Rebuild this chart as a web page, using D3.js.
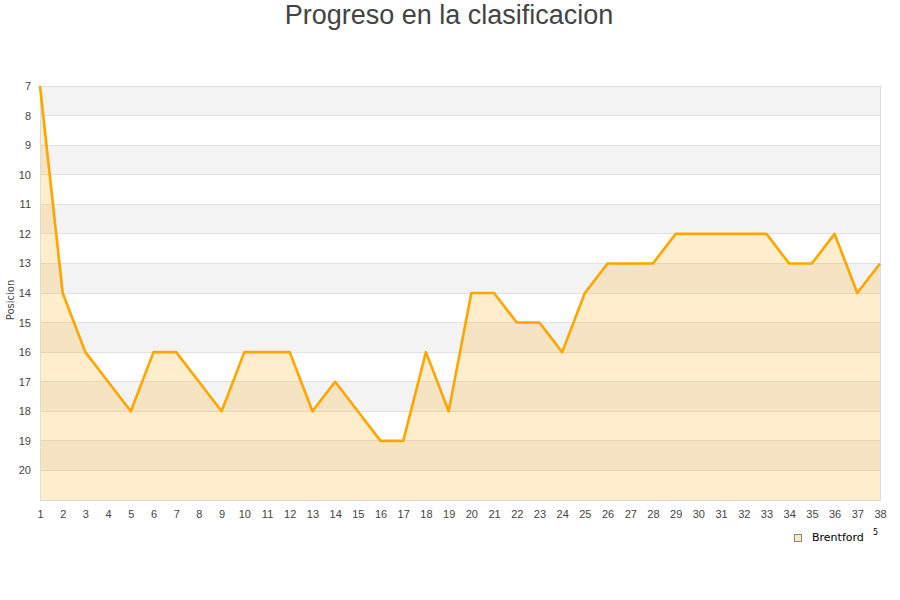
<!DOCTYPE html>
<html><head><meta charset="utf-8">
<script src="https://cdn.jsdelivr.net/npm/d3@7"></script>
<style>body{margin:0;background:#fff}svg{display:block;font-family:"DejaVu Sans",sans-serif}</style>
</head><body><svg id="c" width="900" height="600"></svg>
<script>
const title = "Progreso en la clasificacion";
const yLabel = "Posicion";
const seriesName = "Brentford";
const jornadas = d3.range(1, 39);
const posiciones = [7,14,16,17,18,16,16,17,18,16,16,16,18,17,18,19,19,16,18,14,14,15,15,16,14,13,13,13,12,12,12,12,12,13,13,12,14,13];
const yTicks = [7,8,9,10,11,12,13,14,15,16,17,18,19,20];

const svg = d3.select("#c");
const L = 40, R = 880, T = 86, B = 500;
const x = d3.scaleLinear().domain([1, 38]).range([L, R]);
const y = d3.scaleLinear().domain([7, 21]).range([T, B]);
const data = jornadas.map((j, i) => ({j, p: posiciones[i]}));

const bands = d3.range(7, 21);
svg.append("g").selectAll("rect").data(bands).join("rect")
  .attr("x", L).attr("width", R - L)
  .attr("y", d => y(d)).attr("height", d => y(d + 1) - y(d))
  .attr("fill", d => (d % 2 === 1) ? "#f3f3f3" : "#ffffff");
svg.append("g").selectAll("line").data(d3.range(8, 21)).join("line")
  .attr("x1", L).attr("x2", R).attr("y1", d => y(d)).attr("y2", d => y(d))
  .attr("stroke", "#e2e2e2").attr("stroke-width", 1).attr("shape-rendering", "crispEdges");
svg.append("path").datum(data)
  .attr("d", d3.area().x(d => x(d.j)).y0(y(21)).y1(d => y(d.p)))
  .attr("fill", "#ffa500").attr("fill-opacity", 0.2);
svg.append("rect").attr("x", L).attr("y", T).attr("width", R - L).attr("height", B - T)
  .attr("fill", "none").attr("stroke", "#dcdcdc").attr("shape-rendering", "crispEdges");
svg.append("path").datum(data)
  .attr("d", d3.line().x(d => x(d.j)).y(d => y(d.p)))
  .attr("fill", "none").attr("stroke", "#ffa500").attr("stroke-width", 2.6).attr("stroke-linejoin", "round");

const yAxis = d3.axisLeft(y).tickValues(yTicks).tickSize(0).tickPadding(9);
const gy = svg.append("g").attr("transform", `translate(${L},0)`).call(yAxis);
gy.select(".domain").remove();
gy.selectAll("text").attr("fill", "#444").attr("font-size", 11);

const xAxis = d3.axisBottom(x).tickValues(jornadas).tickSize(0).tickPadding(10).tickFormat(d3.format("d"));
const gx = svg.append("g").attr("transform", `translate(0,${B})`).call(xAxis);
gx.select(".domain").remove();
gx.selectAll("text").attr("fill", "#444").attr("font-size", 11);

svg.append("text").attr("x", 449).attr("y", 24).attr("text-anchor", "middle")
  .attr("font-family", "Liberation Sans, Arial, sans-serif").attr("font-size", 27).attr("fill", "#444").text(title);
svg.append("text").attr("transform", "translate(14,300) rotate(-90)").attr("text-anchor", "middle")
  .attr("font-size", 10).attr("fill", "#444").text(yLabel);
svg.append("rect").attr("x", 794.5).attr("y", 534.5).attr("width", 7).attr("height", 7)
  .attr("fill", "#ffe9c2").attr("stroke", "#888").attr("stroke-width", 1);
svg.append("text").attr("x", 812).attr("y", 541).attr("font-size", 11).attr("fill", "#000").text(seriesName);
svg.append("text").attr("x", 873).attr("y", 535).attr("font-size", 8).attr("fill", "#000").text("5");
</script></body></html>
